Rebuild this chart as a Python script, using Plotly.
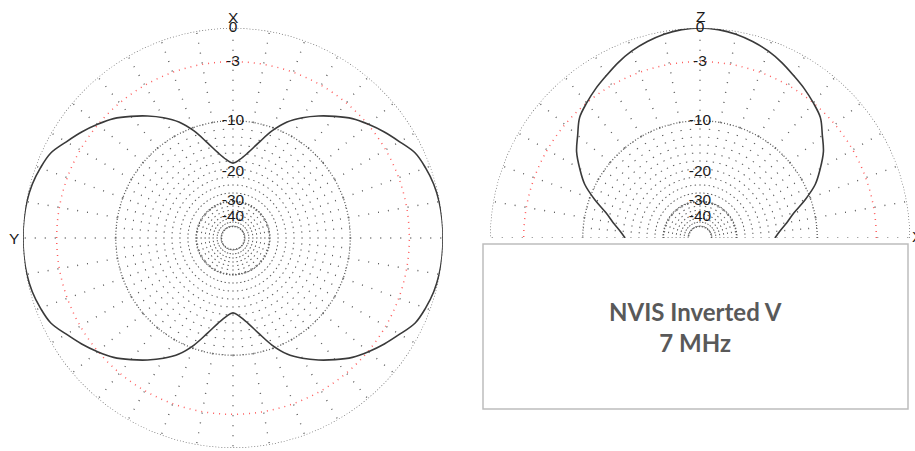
import plotly.graph_objects as go

# ---------------------------------------------------------------
# Radiation pattern of a 7 MHz NVIS inverted V (gain in dB, 0 = max)
# ---------------------------------------------------------------

# Azimuth cut: angle measured from the X axis (top), counter-clockwise
az_deg = list(range(0, 365, 5))
az_db = [
    -17.7, -16.8, -15.2, -13.0, -10.5, -8.5, -7.1, -5.9, -4.8, -3.75,
    -2.95, -2.2, -1.5, -0.75, -0.42, -0.18, -0.06, -0.01, 0.0,
    -0.01, -0.06, -0.18, -0.42, -0.75, -1.5, -2.2, -2.95, -3.75, -4.8,
    -5.9, -7.1, -8.5, -10.5, -13.0, -15.2, -16.8, -17.7,
    -16.8, -15.2, -13.0, -10.5, -8.5, -7.1, -5.9, -4.8, -3.75,
    -2.95, -2.2, -1.5, -0.75, -0.42, -0.18, -0.06, -0.01, 0.0,
    -0.01, -0.06, -0.18, -0.42, -0.75, -1.5, -2.2, -2.95, -3.75, -4.8,
    -5.9, -7.1, -8.5, -10.5, -13.0, -15.2, -16.8, -17.7,
]

# Elevation cut (X-Z plane): angle above the horizon, 0..180 deg
el_deg = list(range(0, 185, 5))
el_db = [
    -17.7, -16.5, -14.9, -13.2, -10.8, -8.6, -7.1, -5.7, -4.7, -3.6,
    -3.0, -2.45, -1.95, -1.4, -0.92, -0.55, -0.25, -0.07, 0.0,
    -0.07, -0.25, -0.55, -0.92, -1.4, -1.95, -2.45, -3.0, -3.6, -4.7,
    -5.7, -7.1, -8.6, -10.8, -13.2, -14.9, -16.5, -17.7,
]

# Grid definition (dB)
ring_db = [0, -10, -30, -50]
half_power_db = -3
tick_db = [0, -3, -10, -20, -30, -40]
tick_text = ["0", "-3", "-10", "-20", "-30", "-40"]

GRID = "#5a5a5a"
RED = "#ff5c5c"
CURVE = "#3a3a3a"
LABEL = "#1a1a1a"
FONT = "Liberation Sans, Arial"


def arrl_r(db):
    """ARRL log-periodic scale: radius shrinks by 0.89 for every 2 dB."""
    return 0.89 ** (-db / 2.0)


def grid_traces(subplot, a0, a1):
    traces = []
    full = (a1 - a0) == 360
    th = list(range(a0, a1 + 1))
    # concentric dotted rings
    for db in ring_db:
        traces.append(go.Scatterpolar(
            r=[arrl_r(db)] * len(th), theta=th, mode="lines",
            line=dict(color=GRID, width=1.3, dash="1px,2px"),
            hoverinfo="skip", subplot=subplot))
    traces.append(go.Scatterpolar(
        r=[arrl_r(half_power_db)] * len(th), theta=th, mode="lines",
        line=dict(color=RED, width=1.5, dash="1px,5px"),
        hoverinfo="skip", subplot=subplot))
    # spokes: 10 deg near the centre, 5 deg in the middle band,
    # 10 deg again in the outer band
    bands = [(10, arrl_r(-50), arrl_r(-30), "1px,3px"),
             (5, arrl_r(-30), arrl_r(-10), "1px,7px"),
             (10, arrl_r(-10), 1.0, "1px,9px")]
    for step, lo, hi, dash in bands:
        rr, tt = [], []
        for a in range(a0, a1 + 1, step):
            if full and a == a1:
                continue
            rr += [lo, hi, None]
            tt += [a, a, None]
        traces.append(go.Scatterpolar(
            r=rr, theta=tt, mode="lines",
            line=dict(color=GRID, width=1.4, dash=dash),
            hoverinfo="skip", subplot=subplot, connectgaps=False))
    return traces


def tick_trace(subplot, angle):
    return go.Scatterpolar(
        r=[arrl_r(d) for d in tick_db], theta=[angle] * len(tick_db),
        mode="text", text=tick_text, textposition="middle center",
        textfont=dict(family=FONT, size=15.5, color=LABEL),
        cliponaxis=False, hoverinfo="skip", subplot=subplot)


fig = go.Figure()

# ---- azimuth plot (left) ----
for t in grid_traces("polar", 0, 360):
    fig.add_trace(t)
fig.add_trace(go.Scatterpolar(
    r=[arrl_r(d) for d in az_db], theta=az_deg, mode="lines",
    line=dict(color=CURVE, width=1.6, shape="spline", smoothing=1.0),
    hoverinfo="skip", subplot="polar"))
fig.add_trace(tick_trace("polar", 0))

# ---- elevation plot (right) ----
for t in grid_traces("polar2", 0, 180):
    fig.add_trace(t)
fig.add_trace(go.Scatterpolar(
    r=[arrl_r(d) for d in el_db], theta=el_deg, mode="lines",
    line=dict(color=CURVE, width=1.6, shape="spline", smoothing=1.0),
    hoverinfo="skip", subplot="polar2"))
fig.add_trace(tick_trace("polar2", 90))

W, H = 915, 451
hidden_radial = dict(range=[0, 1], visible=False, showgrid=False,
                     showline=False, showticklabels=False, ticks="")
hidden_angular = dict(showgrid=False, showline=False, showticklabels=False,
                      ticks="")


def axis_name(text, x_px, y_px):
    return dict(xref="paper", yref="paper", x=x_px / W, y=1 - y_px / H,
                text=text, showarrow=False, xanchor="center",
                yanchor="middle",
                font=dict(family=FONT, size=15.5, color=LABEL))


fig.update_layout(
    width=W, height=H, margin=dict(l=0, r=0, t=0, b=0),
    paper_bgcolor="white", plot_bgcolor="white", showlegend=False,
    polar=dict(
        domain=dict(x=[23 / W, 443 / W], y=[1 - 448 / H, 1 - 28 / H]),
        bgcolor="white",
        radialaxis=hidden_radial,
        angularaxis=dict(hidden_angular, rotation=90,
                         direction="counterclockwise"),
    ),
    polar2=dict(
        domain=dict(x=[490 / W, 910 / W], y=[1 - 238 / H, 1 - 28 / H]),
        bgcolor="white", sector=[0, 180],
        radialaxis=hidden_radial,
        angularaxis=dict(hidden_angular, rotation=0,
                         direction="counterclockwise"),
    ),
    shapes=[dict(type="rect", xref="paper", yref="paper",
                 x0=483 / W, x1=908 / W, y0=1 - 409 / H, y1=1 - 244 / H,
                 line=dict(color="#bdbdbd", width=1.5),
                 fillcolor="white", layer="above")],
    annotations=[
        axis_name("X", 233, 17),
        axis_name("Y", 13.5, 238),
        axis_name("Z", 700, 16),
        axis_name("X", 917, 236),
        dict(xref="paper", yref="paper", x=695.5 / W, y=1 - 326.5 / H,
             text="<b>NVIS Inverted V</b><br><b>7 MHz</b>", showarrow=False,
             xanchor="center", yanchor="middle", align="center",
             font=dict(family="Lato", size=24, color="#595959")),
    ],
)

fig.write_html("out.html")
